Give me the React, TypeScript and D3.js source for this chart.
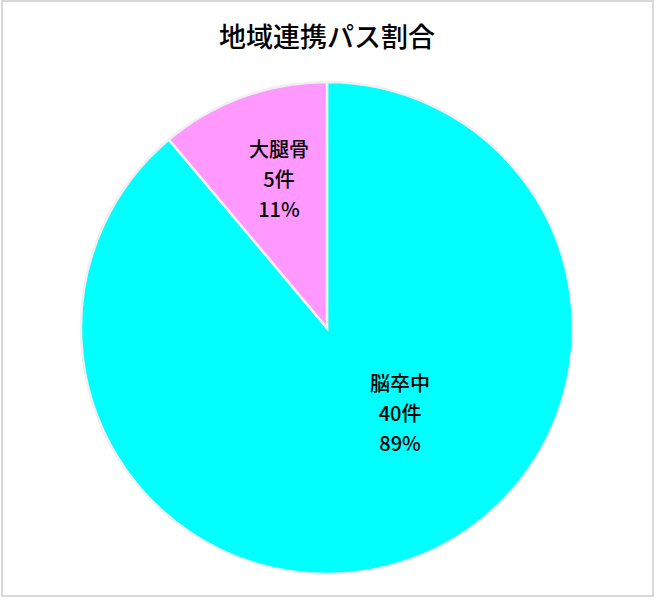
import * as React from "react";
import { arc, pie, sum } from "d3";

const categories = ["脳卒中", "大腿骨"];
const counts = [40, 5];
const colors = ["#00FFFF", "#FF99FF"];
const title = "地域連携パス割合";

const W = 656;
const H = 600;
const cx = 327;
const cy = 328;
const R = 246;

// label placement tweaks (fraction of radius, angle shift in radians)
const labelRadius = [0.46, 0.632];
const labelShift = [-0.353, 0.035];

export default function App() {
  const total = sum(counts);
  const pieGen = pie<number>().sort(null).value((d) => d);
  const arcs = pieGen(counts);
  const arcGen = arc<any>().innerRadius(0).outerRadius(R);

  const font = "'Noto Sans CJK JP', 'Noto Sans', sans-serif";

  return (
    <svg
      width={W}
      height={H}
      style={{ position: "absolute", left: 0, top: 0, background: "#fff" }}
    >
      <rect x={2} y={1} width={W - 5} height={H - 5} fill="#fff" stroke="#d9d9d9" strokeWidth={2} />
      <text
        x={cx}
        y={47}
        textAnchor="middle"
        fontFamily={font}
        fontSize={27}
        fontWeight={500}
        fill="#000"
      >
        {title}
      </text>
      <g transform={`translate(${cx},${cy})`}>
        {arcs.map((a, i) => (
          <path key={i} d={arcGen(a) || ""} fill={colors[i]} stroke="#f0f0f0" strokeWidth={2.5} />
        ))}
        {arcs.map((a, i) => {
          const mid = (a.startAngle + a.endAngle) / 2 + labelShift[i];
          const r = R * labelRadius[i];
          const lx = Math.sin(mid) * r;
          const ly = -Math.cos(mid) * r;
          const pct = Math.round((counts[i] / total) * 100);
          const lines = [categories[i], `${counts[i]}件`, `${pct}%`];
          return (
            <text
              key={"l" + i}
              x={lx}
              y={ly}
              textAnchor="middle"
              fontFamily={font}
              fontSize={20}
              fontWeight={500}
              fill="#000"
            >
              {lines.map((t, j) => (
                <tspan key={j} x={lx} y={ly + (j - 1) * 30 + 7}>
                  {t}
                </tspan>
              ))}
            </text>
          );
        })}
      </g>
    </svg>
  );
}
